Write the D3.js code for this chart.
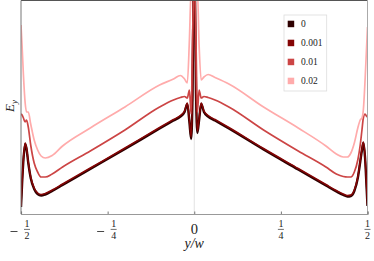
<!DOCTYPE html>
<html>
<head>
<meta charset="utf-8">
<script src="https://cdn.jsdelivr.net/npm/d3@7"></script>
<style>
  body { margin: 0; background: #fff; }
  svg { display: block; }
  text { font-family: "Liberation Serif", "DejaVu Serif", serif; fill: #222; }
</style>
</head>
<body>
<svg id="chart" width="374" height="261"></svg>
<script>
var width = 374;
var height = 261;

// y/w sample positions
var xs = [-0.5, -0.497, -0.493, -0.488, -0.484, -0.479, -0.472, -0.462, -0.452, -0.442, -0.43, -0.41,
  -0.38, -0.3, -0.2, -0.1, -0.06, -0.04, -0.028, -0.02, -0.014, -0.009, -0.005, -0.002,
  0.002, 0.005, 0.009, 0.014, 0.02, 0.028, 0.04, 0.06, 0.1, 0.2, 0.3, 0.38,
  0.41, 0.43, 0.442, 0.452, 0.462, 0.472, 0.479, 0.484, 0.488, 0.493, 0.497, 0.5];

// E_y (arbitrary units) per series
var ey0 = [0.7, 2.9, 5.4, 7.0, 6.5, 5.1, 3.6, 2.5, 2.0, 1.85, 1.95, 2.3,
  2.9, 4.5, 6.5, 8.55, 9.35, 9.75, 10.2, 11.0, 9.2, 7.5, 11.9, 22.4,
  22.4, 12.4, 8.1, 9.4, 11.0, 10.2, 9.75, 9.35, 8.55, 6.45, 4.45, 2.85,
  2.25, 1.9, 1.75, 1.8, 2.3, 3.6, 5.2, 6.4, 7.1, 5.6, 2.9, 0.8];
var ey001 = [0.8, 3.0, 5.5, 7.1, 6.6, 5.2, 3.7, 2.6, 2.1, 1.95, 2.05, 2.4,
  3.0, 4.6, 6.6, 8.65, 9.45, 9.85, 10.3, 11.1, 9.4, 7.7, 12.5, 22.4,
  22.4, 12.9, 8.3, 9.6, 11.1, 10.3, 9.85, 9.45, 8.65, 6.55, 4.55, 2.95,
  2.35, 2.0, 1.85, 1.9, 2.4, 3.7, 5.3, 6.5, 7.2, 5.7, 3.0, 0.9];
var ey01 = [10.0, 9.9, 9.6, 9.2, 9.4, 8.7, 6.9, 5.1, 4.2, 3.7, 3.7, 4.0,
  4.7, 6.3, 8.4, 10.7, 11.4, 11.65, 11.75, 11.6, 12.4, 10.0, 17.4, 22.4,
  22.4, 17.4, 10.2, 12.4, 11.6, 11.75, 11.65, 11.4, 10.7, 8.4, 6.3, 4.7,
  4.0, 3.75, 3.7, 3.7, 4.2, 5.4, 6.9, 8.4, 9.6, 10.0, 9.8, 9.7];
var ey02 = [18.9, 16.9, 13.9, 11.1, 10.2, 10.2, 9.0, 7.4, 6.4, 5.8, 5.6, 5.85,
  6.8, 8.6, 10.7, 12.9, 13.5, 13.85, 13.5, 13.1, 17.4, 22.4, 22.4, 22.4,
  22.4, 22.4, 22.4, 16.9, 13.4, 13.7, 13.95, 13.65, 13.0, 10.7, 8.6, 6.8,
  6.0, 5.7, 5.7, 6.1, 7.1, 8.6, 9.4, 9.6, 10.4, 13.4, 16.4, 18.7];

var seriesNames = ["0", "0.001", "0.01", "0.02"];
var seriesValues = [ey0, ey001, ey01, ey02];
var seriesColors = ["#2e0000", "#850505", "#cc4545", "#ffabab"];
var seriesWidths = [2.4, 1.5, 1.7, 1.7];

var tickVals = [-0.5, -0.25, 0, 0.25, 0.5];
var tickNum = ["1", "1", "0", "1", "1"];
var tickDen = ["2", "4", "", "4", "2"];

var plotLeft = 21, plotRight = 367.5, plotTop = 0.5, plotBottom = 214;

var x = d3.scaleLinear().domain([-0.5, 0.5]).range([plotLeft, plotRight]);
var y = d3.scaleLinear().domain([0, 21.35]).range([plotBottom, plotTop]);

var svg = d3.select("svg#chart");

svg.append("defs").append("clipPath")
    .attr("id", "clip")
    .append("rect")
    .attr("x", plotLeft).attr("y", plotTop)
    .attr("width", plotRight - plotLeft).attr("height", plotBottom - plotTop);

// zero line
svg.append("line")
    .attr("x1", x(0)).attr("x2", x(0))
    .attr("y1", plotTop).attr("y2", plotBottom)
    .attr("stroke", "#dcdcdc")
    .attr("stroke-width", 0.8);

var line = d3.line()
    .x(d => x(d[0]))
    .y(d => y(d[1]))
    .curve(d3.curveMonotoneX);

var g = svg.append("g").attr("clip-path", "url(#clip)");

seriesValues.forEach(function (vals, i) {
    var pts = xs.map((v, j) => [v, vals[j]]);
    [pts.filter(p => p[0] < 0), pts.filter(p => p[0] > 0)].forEach(function (half) {
        g.append("path")
            .datum(half)
            .attr("fill", "none")
            .attr("stroke", seriesColors[i])
            .attr("stroke-width", seriesWidths[i])
            .attr("stroke-linejoin", "round")
            .attr("d", line);
    });
});

// frame
svg.append("line").attr("x1", plotLeft).attr("x2", plotRight).attr("y1", plotTop).attr("y2", plotTop)
    .attr("stroke", "#555").attr("stroke-width", 1);
svg.append("line").attr("x1", plotLeft).attr("x2", plotLeft).attr("y1", plotTop).attr("y2", plotBottom)
    .attr("stroke", "#777").attr("stroke-width", 1);
svg.append("line").attr("x1", plotRight).attr("x2", plotRight).attr("y1", plotTop).attr("y2", plotBottom)
    .attr("stroke", "#aaa").attr("stroke-width", 1);

var axis = d3.axisBottom(x)
    .tickValues(tickVals)
    .tickSize(-2.5)
    .tickFormat("");

var ax = svg.append("g")
    .attr("transform", `translate(0,${plotBottom})`)
    .call(axis);
ax.select(".domain").attr("stroke", "#999").attr("stroke-width", 1.2);
ax.selectAll(".tick line").attr("stroke", "#777");

// tick labels as fractions
tickVals.forEach(function (t, i) {
    var cx = x(t);
    if (tickDen[i] === "") {
        svg.append("text")
            .attr("x", cx).attr("y", 233.5)
            .attr("text-anchor", "middle")
            .style("font-size", "14.5px")
            .text(tickNum[i]);
        return;
    }
    var fx = t < 0 ? cx + 6 : cx;
    if (t < 0) {
        svg.append("line")
            .attr("x1", cx - 10.5).attr("x2", cx - 3.5)
            .attr("y1", 231.5).attr("y2", 231.5)
            .attr("stroke", "#333").attr("stroke-width", 0.9);
    }
    svg.append("text")
        .attr("x", fx).attr("y", 227.3)
        .attr("text-anchor", "middle")
        .style("font-size", "10px")
        .text(tickNum[i]);
    svg.append("line")
        .attr("x1", fx - 3).attr("x2", fx + 3)
        .attr("y1", 229.4).attr("y2", 229.4)
        .attr("stroke", "#333").attr("stroke-width", 0.7);
    svg.append("text")
        .attr("x", fx).attr("y", 238.8)
        .attr("text-anchor", "middle")
        .style("font-size", "10px")
        .text(tickDen[i]);
});

// axis labels
svg.append("text")
    .attr("x", x(0)).attr("y", 247.5)
    .attr("text-anchor", "middle")
    .style("font-size", "14px")
    .style("font-style", "italic")
    .text("y/w");

var yl = svg.append("text")
    .attr("transform", "translate(14,106) rotate(-90)")
    .attr("text-anchor", "middle")
    .style("font-size", "13px")
    .style("font-style", "italic");
yl.append("tspan").text("E");
yl.append("tspan").attr("dy", 3).style("font-size", "9px").text("y");

// legend
var lg = svg.append("g");
lg.append("rect")
    .attr("x", 284).attr("y", 15)
    .attr("width", 42.7).attr("height", 76)
    .attr("fill", "#fff")
    .attr("stroke", "#ddd")
    .attr("stroke-width", 0.8);

seriesNames.forEach(function (name, i) {
    var cy = 24 + i * 19;
    lg.append("rect")
        .attr("x", 287.7).attr("y", cy - 3.3)
        .attr("width", 6.5).attr("height", 6.5)
        .attr("fill", seriesColors[i]);
    lg.append("text")
        .attr("x", 301).attr("y", cy + 3.3)
        .style("font-size", "9.5px")
        .text(name);
});
</script>
</body>
</html>
